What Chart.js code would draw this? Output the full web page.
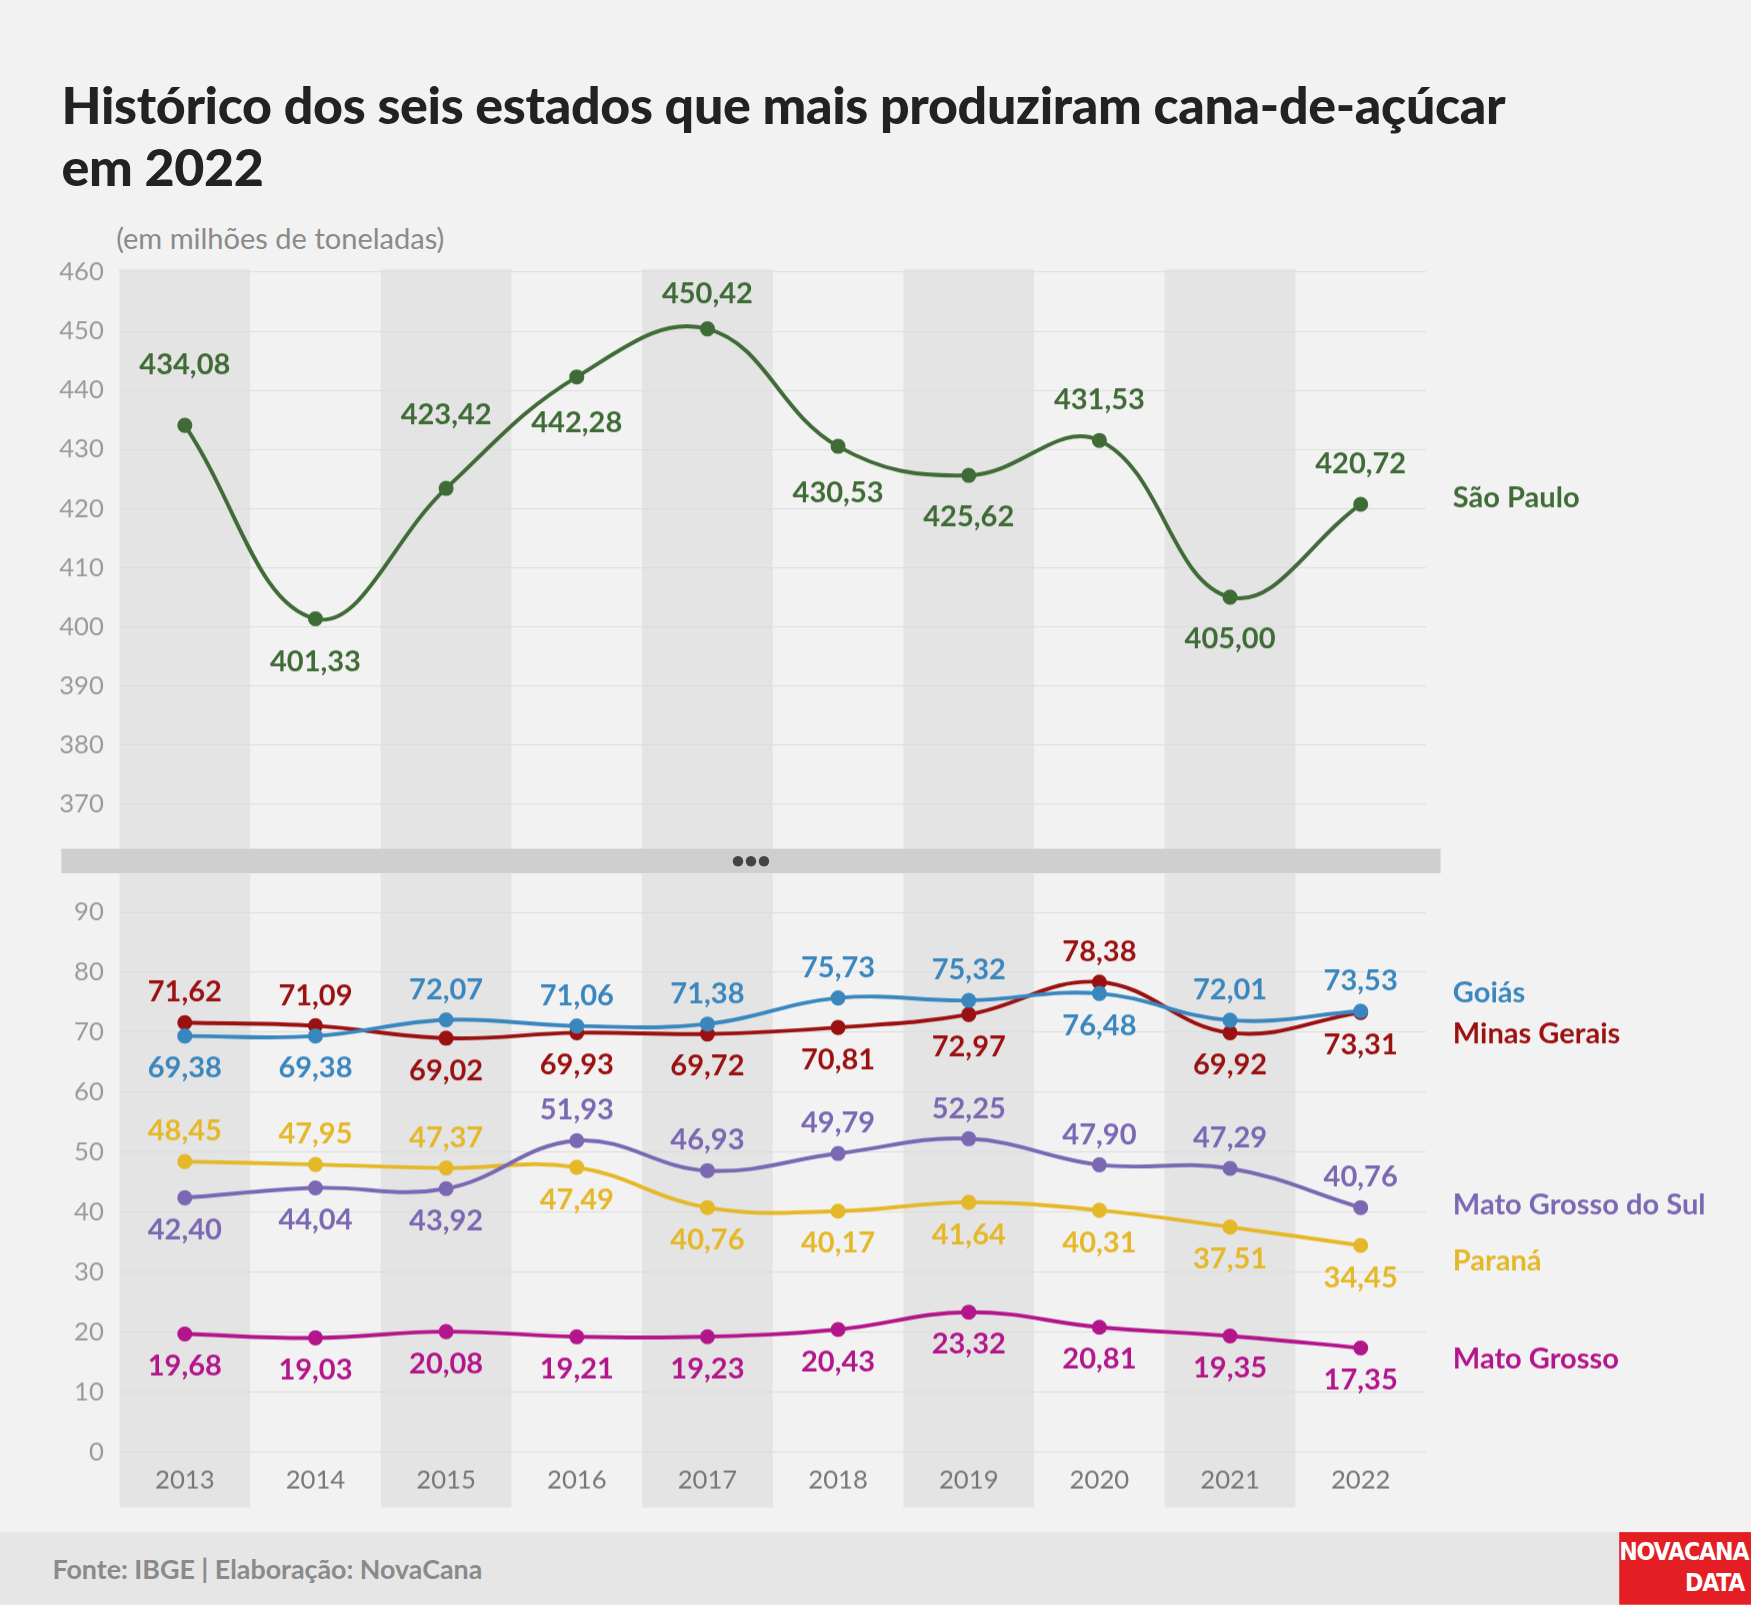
<!DOCTYPE html>
<html><head><meta charset="utf-8">
<script src="https://cdn.jsdelivr.net/npm/chart.js@4"></script>
<style>
html,body{margin:0;padding:0;background:#f2f2f2;overflow:hidden}
#wrap{position:absolute;left:0;top:0;width:1568px;height:1437px;transform:scale(1.1167);transform-origin:0 0;font-family:Lato,sans-serif;background:#f2f2f2}
h1{position:absolute;left:55px;top:65px;margin:0;font-size:46.5px;line-height:56px;font-weight:900;color:#222;letter-spacing:-0.3px}
#sub{position:absolute;left:104px;top:197px;font-size:26px;color:#8a8a8a}
canvas{position:absolute;left:0}
#sep{position:absolute;left:55px;top:760px;width:1235px;height:22px;background:#cfcfcf;text-align:center;font-size:20px;line-height:18px;color:#444;font-weight:900;letter-spacing:0px}
#foot{position:absolute;left:0;top:1372px;width:1568px;height:65px;background:#e6e6e6}
#foot span{position:absolute;left:47px;top:18px;font-size:24px;font-weight:700;color:#8a8a8a}
#logo{position:absolute;left:1450px;top:1372px;width:118px;height:65px;background:#e31e24;color:#fff;font-family:"Liberation Sans Narrow","DejaVu Sans Condensed",sans-serif;font-weight:700;font-size:22px;line-height:28px;text-align:right;padding:4px 6px 0 0;box-sizing:border-box;letter-spacing:-1px}
</style></head><body>
<div id="wrap">
<h1>Histórico dos seis estados que mais produziram cana-de-açúcar<br>em 2022</h1>
<div id="sub">(em milhões de toneladas)</div>
<canvas id="top" width="1568" height="558" style="top:216px"></canvas>
<div id="sep">•••</div>
<canvas id="bot" width="1568" height="568" style="top:782px"></canvas>
<div id="foot"><span>Fonte: IBGE | Elaboração: NovaCana</span></div>
<div id="logo">NOVACANA<br>DATA</div>
</div>
<script>
const years = ['2013','2014','2015','2016','2017','2018','2019','2020','2021','2022'];
const saoPaulo = [434.08,401.33,423.42,442.28,450.42,430.53,425.62,431.53,405.00,420.72];
const goias = [69.38,69.38,72.07,71.06,71.38,75.73,75.32,76.48,72.01,73.53];
const minas = [71.62,71.09,69.02,69.93,69.72,70.81,72.97,78.38,69.92,73.31];
const msul = [42.40,44.04,43.92,51.93,46.93,49.79,52.25,47.90,47.29,40.76];
const parana = [48.45,47.95,47.37,47.49,40.76,40.17,41.64,40.31,37.51,34.45];
const mgrosso = [19.68,19.03,20.08,19.21,19.23,20.43,23.32,20.81,19.35,17.35];
const topTicks = [370,380,390,400,410,420,430,440,450,460];
const botTicks = [0,10,20,30,40,50,60,70,80,90];

// label placement: positive = above, negative = below (distance in px)
const posSP = [54,-39,66,-41,31,-42,-37,36,-37,36];
const posGO = [-29,-29,27,27,27,27,27,-29,27,27];
const posMG = [27,27,-29,-29,-29,-29,-29,27,-29,-29];
const posMS = [-29,-29,-29,27,27,27,27,27,27,27];
const posPR = [27,27,27,-29,-29,-29,-29,-29,-29,-29];
const posMT = [-29,-29,-29,-29,-29,-29,-29,-29,-29,-29];

const DPR = 1.1167;
const fmt = v => v.toFixed(2).replace('.', ',');

const deco = {
  id: 'deco',
  beforeDraw(chart, a, o) {
    const {ctx, scales: {x}} = chart;
    const w = x.getPixelForValue(1) - x.getPixelForValue(0);
    ctx.save();
    ctx.fillStyle = '#e4e4e4';
    for (let i = 0; i < years.length; i += 2) {
      ctx.fillRect(x.getPixelForValue(i) - w / 2, o.top, w, chart.height);
    }
    ctx.restore();
  },
  afterDatasetsDraw(chart, a, o) {
    const {ctx, scales: {x}} = chart;
    ctx.save();
    ctx.textAlign = 'center';
    ctx.textBaseline = 'middle';
    ctx.font = 'bold 26px Lato';
    chart.data.datasets.forEach((ds, di) => {
      const meta = chart.getDatasetMeta(di);
      ctx.fillStyle = ds.borderColor;
      meta.data.forEach((pt, i) => {
        ctx.fillText(fmt(ds.data[i]), pt.x, pt.y - ds.pos[i]);
      });
      ctx.textAlign = 'left';
      ctx.fillText(ds.label, 1301, ds.nameY);
      ctx.textAlign = 'center';
    });
    if (o.years) {
      ctx.font = '23px Lato';
      ctx.fillStyle = '#777';
      years.forEach((y, i) => ctx.fillText(y, x.getPixelForValue(i), 543));
    }
    ctx.restore();
  }
};

function ds(label, data, color, pos, nameY) {
  return {label, data, borderColor: color, backgroundColor: color, pos, nameY,
    borderWidth: 3.5, pointRadius: 5, pointHoverRadius: 5, tension: 0.4, fill: false};
}

function opts(min, max, ticks, pad, extra) {
  return {
    responsive: false, animation: false, devicePixelRatio: DPR,
    layout: {padding: pad},
    plugins: {legend: {display: false}, tooltip: {enabled: false}, deco: extra},
    scales: {
      x: {display: false, offset: true},
      y: {min, max,
        afterBuildTicks: ax => { ax.ticks = ticks.map(v => ({value: v})); },
        afterFit: ax => { ax.width = 107; },
        border: {display: false},
        grid: {color: '#dcdcdc', drawTicks: false},
        ticks: {padding: 14, color: '#9a9a9a', font: {family: 'Lato', size: 23}}
      }
    }
  };
}

new Chart(document.getElementById('top'), {
  type: 'line',
  data: {labels: years, datasets: [ds('São Paulo', saoPaulo, '#3f6b36', posSP, 230)]},
  options: opts(365, 460, topTicks, {top: 9, right: 291, bottom: 0}, {top: 25}),
  plugins: [deco]
});

new Chart(document.getElementById('bot'), {
  type: 'line',
  data: {labels: years, datasets: [
    ds('Goiás', goias, '#3a87bf', posGO, 107),
    ds('Minas Gerais', minas, '#9b1111', posMG, 144),
    ds('Mato Grosso do Sul', msul, '#7a68b3', posMS, 297),
    ds('Paraná', parana, '#e5b82a', posPR, 347),
    ds('Mato Grosso', mgrosso, '#b3168b', posMT, 435)
  ]},
  options: opts(0, 90, botTicks, {top: 35, right: 291, bottom: 50}, {top: 0, years: true}),
  plugins: [deco]
});
</script>
</body></html>
